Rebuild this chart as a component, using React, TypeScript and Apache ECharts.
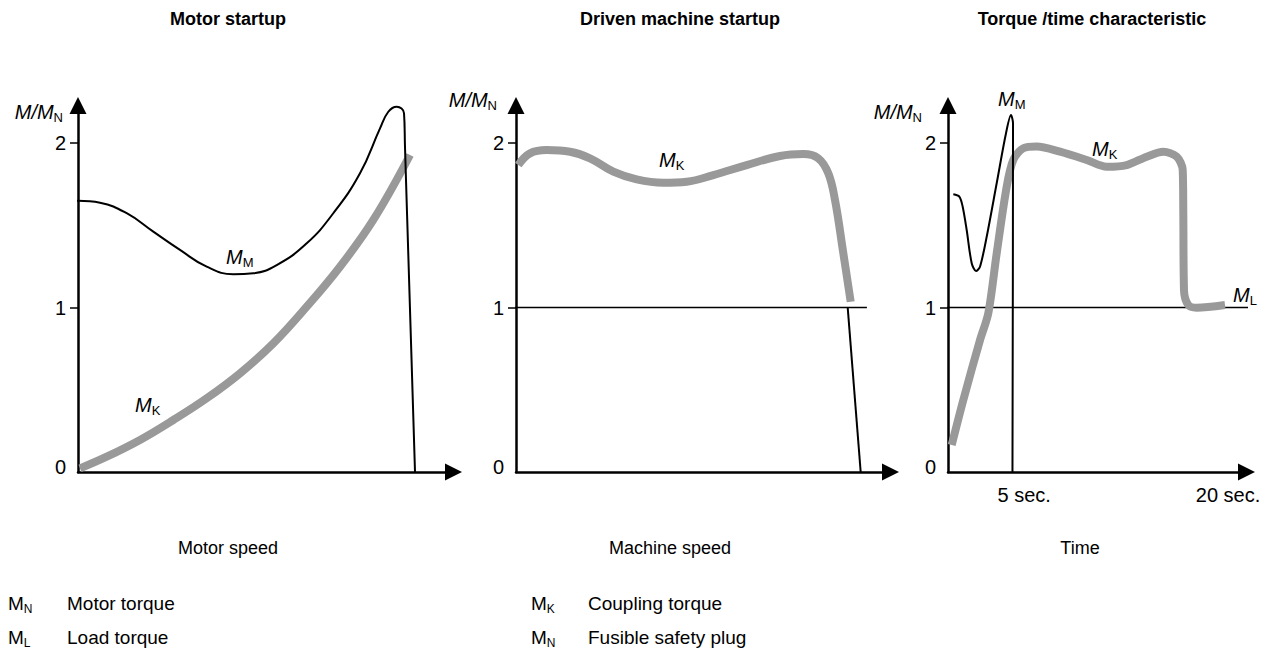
import React, { useEffect, useRef } from "react";
import * as echarts from "echarts";

// ---------- data (x in 0..100 units along each horizontal axis, y in M/M_N) ----------
const yTickValues = [0, 1, 2];
const yTickMarks = [1, 2];

// Panel 1: Motor startup
const p1MotorTorque: [number, number][] = [
  [-2.66, 1.637], [0, 1.649], [5.86, 1.637], [12.97, 1.573], [20.05, 1.461],
  [27.16, 1.35], [34.27, 1.248], [41.36, 1.202], [46.68, 1.208], [52.92, 1.258],
  [60.91, 1.39], [67.99, 1.573], [75.1, 1.816], [80.43, 2.089], [82.64, 2.19],
  [84.87, 2.221], [86.82, 2.181], [87.08, 1.978], [89.75, 0],
];
const p1Coupling: [number, number][] = [
  [0.53, 0.022], [7.64, 0.093], [16.51, 0.195], [25.38, 0.316], [34.27, 0.448],
  [43.14, 0.6], [52.01, 0.782], [60.91, 1.005], [69.77, 1.248], [78.64, 1.532],
  [88.42, 1.927],
];

// Panel 2: Driven machine startup
const p2Coupling: [number, number][] = [
  [0.61, 1.866], [3.74, 1.937], [8.2, 1.957], [14.42, 1.947], [19.76, 1.907],
  [25.98, 1.826], [32.23, 1.779], [39.33, 1.759], [45.58, 1.765], [52.68, 1.805],
  [61.6, 1.866], [70.49, 1.921], [76.72, 1.933], [80.72, 1.907], [83.39, 1.816],
  [85.18, 1.653], [87.4, 1.33], [89.37, 1.035],
];
const p2Drop: [number, number][] = [[88.57, 1.0], [92.04, 0]];
const p2LoadLine: [number, number][] = [[-2.14, 1], [93.7, 1]];

// Panel 3: Torque / time characteristic
const p3MotorTorque: [number, number][] = [
  [1.78, 1.688], [3.79, 1.674], [4.92, 1.613], [6.26, 1.471], [7.94, 1.269],
  [9.38, 1.222], [10.72, 1.248], [12.96, 1.43], [16.31, 1.755], [19.43, 2.059],
  [21.1, 2.17], [21.78, 2.12], [21.6, 0],
];
const p3Coupling: [number, number][] = [
  [1.24, 0.164], [5.13, 0.438], [10.72, 0.802], [13.5, 0.965], [16.31, 1.329],
  [19.66, 1.734], [21.88, 1.897], [25.23, 1.968], [29.72, 1.978], [37.52, 1.947],
  [46.47, 1.897], [53.17, 1.856], [59.87, 1.866], [66.57, 1.917], [72.13, 1.947],
  [76.62, 1.917], [78.63, 1.836], [78.83, 1.573], [79.06, 1.106], [80.5, 1.015],
  [83.32, 0.999], [92.8, 1.015],
];
const p3LoadLine: [number, number][] = [[-3.69, 1], [105.5, 1]];
const timeTickValues = [25.5, 93.8];
const timeTickLabels = ["5 sec.", "20 sec."];

const titles = ["Motor startup", "Driven machine startup", "Torque /time characteristic"];
const axisNames = ["Motor speed", "Machine speed", "Time"];
const legendLeft = [["N", "Motor torque"], ["L", "Load torque"]];
const legendRight = [["K", "Coupling torque"], ["N", "Fusible safety plug"]];

const FONT = "Liberation Sans, Arial, Helvetica, sans-serif";
const GRAY = "#999999";

export default function App() {
  const ref = useRef<HTMLDivElement>(null);
  useEffect(() => {
    if (!ref.current) return;
    const chart = echarts.init(ref.current, null, { renderer: "svg" });

    const yMax = (472 - 105.5) / 164.5;
    const grids = [
      { left: 78, top: 105.5, width: 375.5, height: 366.5 },
      { left: 516, top: 105.5, width: 374.5, height: 366.5 },
      { left: 948, top: 105.5, width: 298.5, height: 366.5 },
    ];

    const xAxes = grids.map((_, i) => ({
      type: "value",
      gridIndex: i,
      min: 0,
      max: 100,
      splitLine: { show: false },
      axisLine: {
        show: true,
        symbol: ["none", "triangle"],
        symbolSize: [17, 17],
        lineStyle: { color: "#000", width: 2.5 },
      },
      axisTick: { show: false },
      axisLabel:
        i === 2
          ? {
              show: true,
              customValues: timeTickValues,
              formatter: (v: number) => {
                const k = timeTickValues.indexOf(v);
                return k >= 0 ? timeTickLabels[k] : "";
              },
              color: "#000",
              fontFamily: FONT,
              fontSize: 20,
              margin: 13,
            }
          : { show: false },
    }));

    const yAxes = grids.map((_, i) => ({
      type: "value",
      gridIndex: i,
      min: 0,
      max: yMax,
      splitLine: { show: false },
      axisLine: {
        show: true,
        symbol: ["none", "triangle"],
        symbolSize: [17, 17],
        lineStyle: { color: "#000", width: 2.5 },
      },
      axisTick: {
        show: true,
        customValues: yTickMarks,
        length: 8,
        lineStyle: { color: "#000", width: 1.5 },
      },
      axisLabel: {
        show: true,
        customValues: yTickValues,
        color: "#000",
        fontFamily: FONT,
        fontSize: 20,
        margin: 12,
        formatter: (v: number) => (v === 0 ? "{z|0}" : String(v)),
        rich: {
          z: { fontFamily: FONT, fontSize: 20, color: "#000", padding: [0, 0, 10, 0] },
        },
      },
    }));

    const line = (
      data: [number, number][],
      idx: number,
      color: string,
      width: number,
      smooth: number | boolean
    ) => ({
      type: "line",
      xAxisIndex: idx,
      yAxisIndex: idx,
      data,
      smooth,
      symbol: "none",
      clip: false,
      silent: true,
      lineStyle: { color, width, cap: "butt", join: "round" },
    });

    const series = [
      line(p1Coupling, 0, GRAY, 8, 0.4),
      line(p1MotorTorque, 0, "#000", 2, 0.45),
      line(p2LoadLine, 1, "#000", 1.5, false),
      line(p2Coupling, 1, GRAY, 8, 0.4),
      line(p2Drop, 1, "#000", 2, false),
      line(p3LoadLine, 2, "#000", 1.5, false),
      line(p3Coupling, 2, GRAY, 8, 0.3),
      line(p3MotorTorque, 2, "#000", 2, 0.3),
    ];

    const subLabel = (
      x: number,
      y: number,
      main: string,
      sub: string,
      italic: boolean,
      align: "left" | "right" = "left",
      size = 20
    ) => ({
      type: "text",
      x,
      y,
      style: {
        text: `{m|${main}}{s|${sub}}`,
        align,
        verticalAlign: "middle",
        fill: "#000",
        rich: {
          m: {
            fontFamily: FONT,
            fontSize: size,
            fontStyle: italic ? "italic" : "normal",
            lineHeight: 24,
            fill: "#000",
          },
          s: {
            fontFamily: FONT,
            fontSize: Math.round(size * 0.65),
            lineHeight: 12,
            verticalAlign: "bottom",
            fill: "#000",
          },
        },
      },
    });

    const plain = (
      x: number,
      y: number,
      text: string,
      size: number,
      bold = false,
      align = "center"
    ) => ({
      type: "text",
      x,
      y,
      style: {
        text,
        align,
        verticalAlign: "middle",
        fontFamily: FONT,
        fontSize: size,
        fontWeight: bold ? "bold" : "normal",
        fill: "#000",
      },
    });

    const titleX = [228, 680, 1092];
    const captionX = [228, 670, 1080];
    const graphic: any[] = [];
    titles.forEach((t, i) => graphic.push(plain(titleX[i], 19, t, 18, true)));
    axisNames.forEach((t, i) => graphic.push(plain(captionX[i], 548, t, 18)));

    // axis names M/M_N
    graphic.push(subLabel(63, 112, "M/M", "N", true, "right"));
    graphic.push(subLabel(497, 100, "M/M", "N", true, "right"));
    graphic.push(subLabel(922, 112, "M/M", "N", true, "right"));

    // curve labels
    graphic.push(subLabel(226, 257, "M", "M", true));
    graphic.push(subLabel(135, 405, "M", "K", true));
    graphic.push(subLabel(659, 160, "M", "K", true));
    graphic.push(subLabel(998, 99, "M", "M", true));
    graphic.push(subLabel(1092, 149, "M", "K", true));
    graphic.push(subLabel(1233, 295, "M", "L", true));

    // legend
    const rowsY = [603, 637];
    legendLeft.forEach(([s, d], r) => {
      graphic.push(subLabel(8, rowsY[r], "M", s, false, "left", 19));
      graphic.push(plain(67, rowsY[r], d, 19, false, "left"));
    });
    legendRight.forEach(([s, d], r) => {
      graphic.push(subLabel(531, rowsY[r], "M", s, false, "left", 19));
      graphic.push(plain(588, rowsY[r], d, 19, false, "left"));
    });

    chart.setOption({
      animation: false,
      backgroundColor: "#fff",
      grid: grids.map((g) => ({ ...g, containLabel: false })),
      xAxis: xAxes,
      yAxis: yAxes,
      series,
      graphic,
    });

    return () => chart.dispose();
  }, []);

  return (
    <div
      ref={ref}
      style={{ position: "absolute", left: 0, top: 0, width: 1270, height: 649 }}
    />
  );
}
